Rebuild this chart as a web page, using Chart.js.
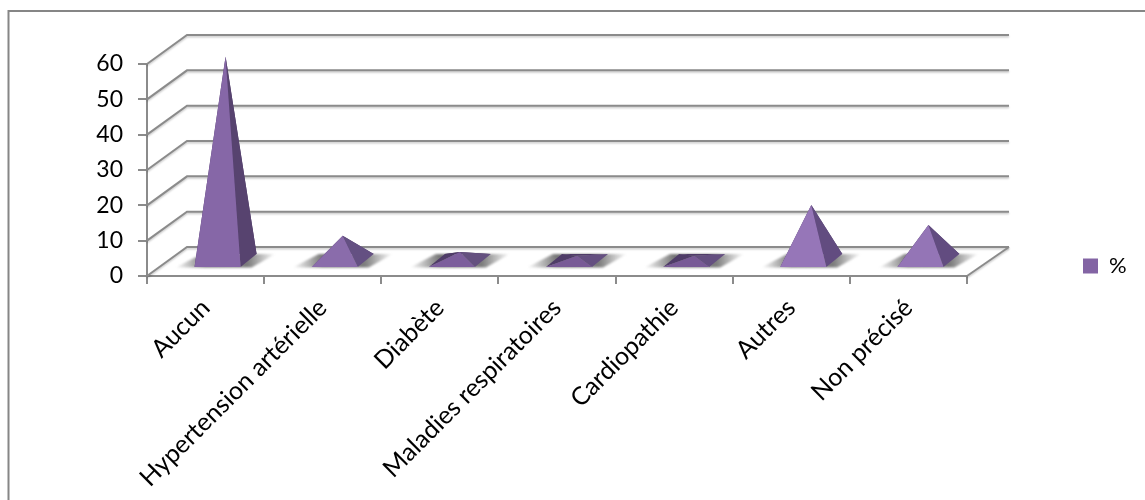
<!DOCTYPE html>
<html>
<head>
<meta charset="utf-8">
<style>
  html, body { margin: 0; padding: 0; background: #fff; }
  #wrap { width: 1145px; height: 500px; position: relative; overflow: hidden; }
</style>
<script src="https://cdn.jsdelivr.net/npm/chart.js@4/dist/chart.umd.min.js"></script>
</head>
<body>
<div id="wrap"><canvas id="chart" width="1145" height="500"></canvas></div>
<script>
const categories = ['Aucun', 'Hypertension artérielle', 'Diabète', 'Maladies respiratoires', 'Cardiopathie', 'Autres', 'Non précisé'];
const percentages = [58, 7.3, 2.7, 1.6, 1.6, 16, 10.3];
const yTicks = [0, 10, 20, 30, 40, 50, 60];

const frontShades = ['#8667a7', '#8a6cab', '#7c5e9c', '#785a96', '#785a96', '#9676b8', '#9475b6'];
const sideShades = ['#57436f', '#645082', '#64507f', '#644f80', '#644f80', '#624c80', '#624c80'];
const backShades = '#4f3c68';

const LINE = '#8b8b8b';
const DEPTH_X = 40;   // floor depth, front edge to back wall
const DEPTH_Y = 29;

function gridStroke(ctx, pts) {
    ctx.save();
    ctx.strokeStyle = LINE;
    ctx.lineWidth = 2;
    ctx.shadowColor = 'rgba(0,0,0,0.22)';
    ctx.shadowBlur = 2;
    ctx.shadowOffsetY = 1.5;
    ctx.beginPath();
    pts.forEach((p, i) => i ? ctx.lineTo(p[0], p[1]) : ctx.moveTo(p[0], p[1]));
    ctx.stroke();
    ctx.restore();
}

function fillPoly(ctx, pts, color) {
    ctx.fillStyle = color;
    ctx.beginPath();
    pts.forEach((p, i) => i ? ctx.lineTo(p[0], p[1]) : ctx.moveTo(p[0], p[1]));
    ctx.closePath();
    ctx.fill();
}

// walls, floor and outer frame behind the pyramids
const wallsPlugin = {
    id: 'walls',
    afterLayout(chart) {
        // keep the legend out at the far right, away from the floor
        const legend = chart.legend;
        const w = legend.right - legend.left;
        legend.left = 1073;
        legend.right = legend.left + w;
        legend.top -= 16;
        legend.bottom -= 16;
    },
    beforeDatasetsDraw(chart) {
        const ctx = chart.ctx;
        const { left, right } = chart.chartArea;
        const y = chart.scales.y;

        ctx.save();
        ctx.strokeStyle = '#868686';
        ctx.lineWidth = 2;
        ctx.beginPath();
        ctx.moveTo(8.5, chart.height);
        ctx.lineTo(8.5, 11);
        ctx.lineTo(chart.width, 11);
        ctx.stroke();
        ctx.restore();

        yTicks.forEach(v => {
            const py = y.getPixelForValue(v);
            gridStroke(ctx, [[left, py], [left + DEPTH_X, py - DEPTH_Y], [right + DEPTH_X + 2, py - DEPTH_Y]]);
        });
        const floorY = y.getPixelForValue(0);
        gridStroke(ctx, [[right, floorY], [right + DEPTH_X + 2, floorY - DEPTH_Y]]);
    },
    // each bar element gives the position and size of one pyramid
    beforeDatasetDraw(chart, args) {
        const ctx = chart.ctx;
        const meta = args.meta;
        meta.data.forEach((el, i) => {
            const halfW = el.width / 2;
            const dx = 8, dy = 6.5;
            const cx = el.x + DEPTH_X / 2;
            const by = el.base - DEPTH_Y / 2;
            const apex = [cx, el.y - DEPTH_Y / 2];
            const fl = [cx - halfW - dx, by + dy];
            const fr = [cx + halfW - dx, by + dy];
            const br = [cx + halfW + dx, by - dy];
            const bl = [cx - halfW + dx, by - dy];

            // floor shadow, fading out on both sides
            ctx.save();
            const grad = ctx.createLinearGradient(cx - 50, 0, cx + 50, 0);
            grad.addColorStop(0, 'rgba(110,110,110,0)');
            grad.addColorStop(0.3, 'rgba(110,110,110,0.95)');
            grad.addColorStop(0.72, 'rgba(110,110,110,0.9)');
            grad.addColorStop(1, 'rgba(110,110,110,0)');
            ctx.filter = 'blur(1px)';
            fillPoly(ctx, [[cx - 50, by + dy + 0.5], [cx + 26, by + dy + 0.5], [cx + 50, by - dy], [cx - 24, by - dy]], grad);
            ctx.restore();

            fillPoly(ctx, [bl, br, apex], backShades);
            fillPoly(ctx, [fl, bl, apex], backShades);
            fillPoly(ctx, [fr, br, apex], sideShades[i]);
            fillPoly(ctx, [fl, fr, apex], frontShades[i]);
        });
        return false;
    }
};

new Chart(document.getElementById('chart'), {
    type: 'bar',
    data: {
        labels: categories,
        datasets: [{
            label: '%',
            data: percentages,
            backgroundColor: '#8364a4',
            categoryPercentage: 1,
            barPercentage: 0.393
        }]
    },
    plugins: [wallsPlugin],
    options: {
        responsive: false,
        animation: false,
        layout: { padding: { left: 0, right: 118, top: 64, bottom: 0 } },
        font: { family: 'Lato' },
        scales: {
            x: {
                afterFit(scale) { scale.height = 224; },
                grid: { drawOnChartArea: false, color: LINE, lineWidth: 2, tickLength: 8 },
                border: { color: LINE, width: 2 },
                ticks: {
                    autoSkip: false,
                    minRotation: 45,
                    maxRotation: 45,
                    padding: 9,
                    color: '#000',
                    font: { family: 'Lato', size: 25 }
                }
            },
            y: {
                min: 0,
                max: 60,
                afterFit(scale) { scale.width = 147; },
                afterBuildTicks(scale) { scale.ticks = yTicks.map(v => ({ value: v })); },
                grid: { drawOnChartArea: false, color: LINE, lineWidth: 2, tickLength: 9 },
                border: { color: LINE, width: 2 },
                ticks: {
                    padding: 15,
                    color: '#000',
                    font: { family: 'Lato', size: 23 }
                }
            }
        },
        plugins: {
            tooltip: { enabled: false },
            legend: {
                position: 'right',
                maxWidth: 60,
                labels: {
                    boxWidth: 15,
                    boxHeight: 15,
                    padding: 10,
                    color: '#000',
                    font: { family: 'Lato', size: 22 }
                }
            }
        }
    }
});
</script>
</body>
</html>
